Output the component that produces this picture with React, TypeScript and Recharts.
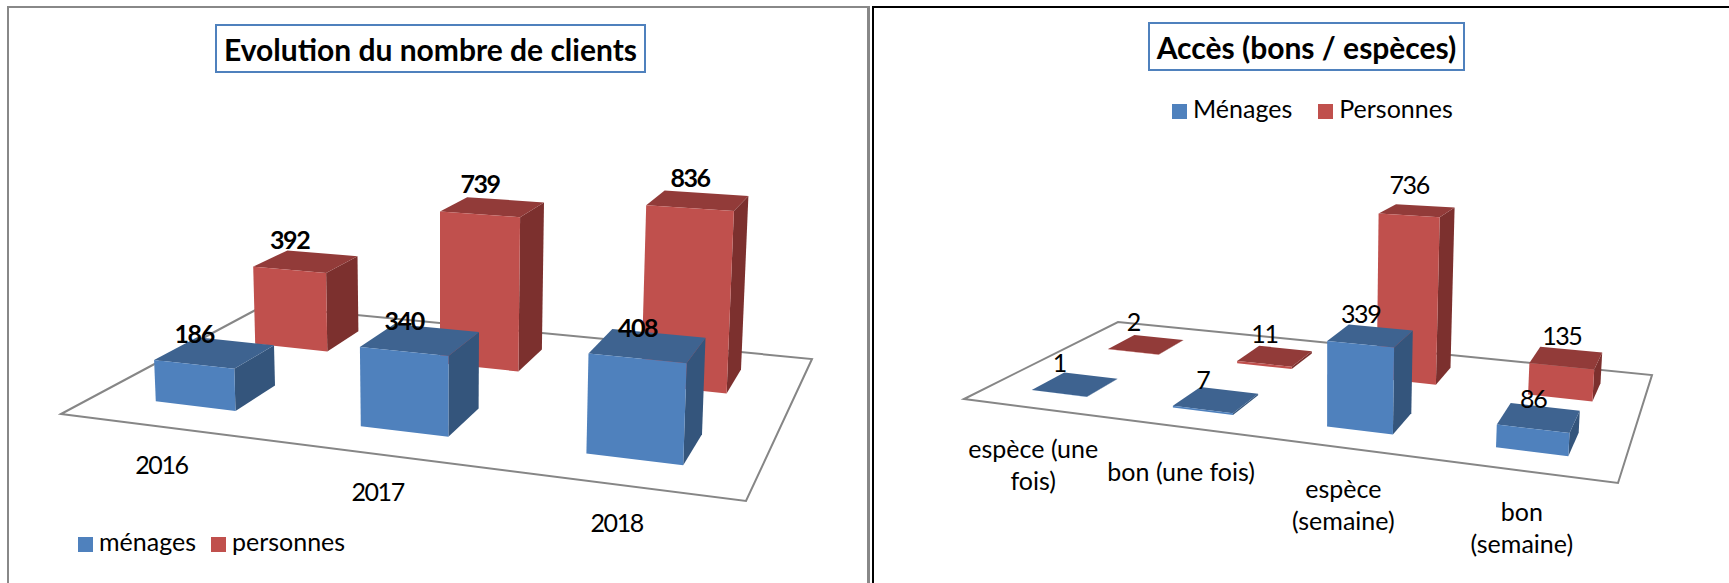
import React from 'react';
import { Bar, BarChart, LabelList, Legend, XAxis, YAxis } from 'recharts';

// left chart
const years = ['2016', '2017', '2018'];
const menagesByYear = [186, 340, 408];
const personnesByYear = [392, 739, 836];

// right chart
const accessTypes = ['espèce (une\nfois)', 'bon (une fois)', 'espèce\n(semaine)', 'bon\n(semaine)'];
const menagesByAccess = [1, 7, 339, 86];
const personnesByAccess = [2, 11, 736, 135];

const FONT = 'Lato, sans-serif';
const TEXT_SIZE = 25;
const DIGIT_SPACING = -1.4; // Lato digits run wider than the original font
const BLUE = { front: '#4f81bd', top: '#3e6390', side: '#34557c' };
const RED = { front: '#c0504d', top: '#923b39', side: '#7c302e' };
const CHART_HEIGHT = 583;

type Pt = [number, number];

// floor quad -> unit square mapping, so the bars keep the Excel 3D look
const makeCamera = (quad: Pt[], plotWidth: number, liftScale: number, centerX: number, spread: number) => {
  const [p0, p1, p2, p3] = quad;
  const dx1 = p1[0] - p2[0];
  const dx2 = p3[0] - p2[0];
  const sx = p0[0] - p1[0] + p2[0] - p3[0];
  const dy1 = p1[1] - p2[1];
  const dy2 = p3[1] - p2[1];
  const sy = p0[1] - p1[1] + p2[1] - p3[1];
  const den = dx1 * dy2 - dx2 * dy1;
  const g = (sx * dy2 - dx2 * sy) / den;
  const h = (dx1 * sy - sx * dy1) / den;
  const a = p1[0] - p0[0] + g * p1[0];
  const b = p3[0] - p0[0] + h * p3[0];
  const d = p1[1] - p0[1] + g * p1[1];
  const e = p3[1] - p0[1] + h * p3[1];

  return (px: number, depth: number, heightPx = 0): Pt => {
    const u = px / plotWidth;
    const w = 1 + g * u + h * depth;
    const fx = (a * u + b * depth + p0[0]) / w;
    const fy = (d * u + e * depth + p0[1]) / w;
    const lift = (heightPx * liftScale) / w;
    return [fx + lift * spread * (fx - centerX), fy - lift];
  };
};

const toPoints = (pts: Pt[]) => pts.map((p) => `${p[0].toFixed(1)},${p[1].toFixed(1)}`).join(' ');

const Box3D = ({ x, width, height, camera, depth, colors }: any) => {
  const [v0, v1] = depth;
  const x1 = x + width;
  return (
    <g>
      <polygon
        points={toPoints([camera(x1, v0, 0), camera(x1, v1, 0), camera(x1, v1, height), camera(x1, v0, height)])}
        fill={colors.side}
      />
      <polygon
        points={toPoints([camera(x, v0, height), camera(x1, v0, height), camera(x1, v1, height), camera(x, v1, height)])}
        fill={colors.top}
      />
      <polygon
        points={toPoints([camera(x, v0, 0), camera(x1, v0, 0), camera(x1, v0, height), camera(x, v0, height)])}
        fill={colors.front}
      />
    </g>
  );
};

const BarValue = ({ x, width, height, value, camera, depth, bold }: any) => {
  const left = camera(x, depth[0], height);
  const right = camera(x + width, depth[0], height);
  return (
    <text
      x={(left[0] + right[0]) / 2}
      y={(left[1] + right[1]) / 2 - 31}
      textAnchor="middle"
      dominantBaseline="central"
      fontFamily={FONT}
      fontSize={TEXT_SIZE}
      letterSpacing={DIGIT_SPACING}
      fontWeight={bold ? 700 : 400}
      fill="#000"
    >
      {value}
    </text>
  );
};

const FloorTick = ({ x, payload, camera, offsets }: any) => {
  const [px, py] = camera(x, 0, 0);
  const label = String(payload.value);
  const lines = label.split('\n');
  const first = py + (lines.length > 1 ? offsets[1] : offsets[0]);
  return (
    <text
      x={px}
      y={first}
      textAnchor="middle"
      dominantBaseline="central"
      fontFamily={FONT}
      fontSize={TEXT_SIZE}
      letterSpacing={/^\d+$/.test(label) ? DIGIT_SPACING : 0}
      fill="#000"
    >
      {lines.map((line, i) => (
        <tspan key={line} x={px} dy={i === 0 ? 0 : 32}>
          {line}
        </tspan>
      ))}
    </text>
  );
};

const Chart3D = ({ categories, menages, personnes, names, width, quad, liftScale, centerX, spread, bold, legendStyle, legendGap, tickOffsets }: any) => {
  const camera = makeCamera(quad, width, liftScale, centerX, spread);
  const rows = categories.map((name: string, i: number) => ({ name, [names[0]]: menages[i], [names[1]]: personnes[i] }));
  const frontRow = [0.15, 0.35];
  const backRow = [0.65, 0.85];

  return (
    <BarChart width={width} height={CHART_HEIGHT} data={rows} margin={{ top: 0, right: 0, bottom: 0, left: 0 }} barCategoryGap="30%">
      <polygon points={toPoints(quad)} fill="#fff" stroke="#868686" strokeWidth={2} />
      <XAxis
        xAxisId="front"
        dataKey="name"
        height={1}
        interval={0}
        axisLine={false}
        tickLine={false}
        tick={(p: any) => <FloorTick {...p} camera={camera} offsets={tickOffsets} />}
      />
      <XAxis xAxisId="back" dataKey="name" hide />
      <YAxis domain={[0, 1000]} hide />
      <Legend
        layout="horizontal"
        align="center"
        verticalAlign="middle"
        iconType="square"
        iconSize={15}
        wrapperStyle={{ ...legendStyle, width: 'auto', fontFamily: FONT, fontSize: TEXT_SIZE }}
        formatter={(value: string) => (
          <span style={{ color: '#000', marginLeft: 2, marginRight: legendGap }}>{value}</span>
        )}
      />
      <Bar
        xAxisId="back"
        dataKey={names[1]}
        fill={RED.front}
        legendType="square"
        isAnimationActive={false}
        shape={(p: any) => <Box3D {...p} camera={camera} depth={backRow} colors={RED} />}
      >
        <LabelList dataKey={names[1]} content={(p: any) => <BarValue {...p} camera={camera} depth={backRow} bold={bold} />} />
      </Bar>
      <Bar
        xAxisId="front"
        dataKey={names[0]}
        fill={BLUE.front}
        legendType="square"
        isAnimationActive={false}
        shape={(p: any) => <Box3D {...p} camera={camera} depth={frontRow} colors={BLUE} />}
      >
        <LabelList dataKey={names[0]} content={(p: any) => <BarValue {...p} camera={camera} depth={frontRow} bold={bold} />} />
      </Bar>
    </BarChart>
  );
};

const TitleBox = ({ text, style }: any) => (
  <div
    style={{
      position: 'absolute',
      boxSizing: 'border-box',
      border: '2px solid #4f81bd',
      background: '#fff',
      fontFamily: FONT,
      fontWeight: 700,
      fontSize: 30,
      color: '#000',
      display: 'flex',
      alignItems: 'center',
      justifyContent: 'center',
      whiteSpace: 'nowrap',
      ...style,
    }}
  >
    {text}
  </div>
);

export default function App() {
  return (
    <div style={{ position: 'absolute', left: 0, top: 0, width: 1729, height: 583, overflow: 'hidden', background: '#fff' }}>
      <div style={{ position: 'absolute', left: 0, top: 0, width: 870, height: 583 }}>
        <Chart3D
          categories={years}
          menages={menagesByYear}
          personnes={personnesByYear}
          names={['ménages', 'personnes']}
          width={870}
          quad={[[61, 414], [746, 501], [812, 359], [263, 306]]}
          liftScale={0.392}
          centerX={440}
          spread={0.00014}
          bold
          tickOffsets={[37, 37]}
          legendGap={5}
          legendStyle={{ left: 78, top: 526 }}
        />
      </div>
      <div style={{ position: 'absolute', left: 870, top: 0, width: 859, height: 583 }}>
        <Chart3D
          categories={accessTypes}
          menages={menagesByAccess}
          personnes={personnesByAccess}
          names={['Ménages', 'Personnes']}
          width={859}
          quad={[[94, 399], [748, 483], [782, 375], [248, 322]]}
          liftScale={0.4055}
          centerX={450}
          spread={0.0002}
          tickOffsets={[44, 40]}
          legendGap={16}
          legendStyle={{ left: 302, top: 93 }}
        />
      </div>

      {/* page frame around the two pasted charts */}
      <div style={{ position: 'absolute', left: 7, top: 6, width: 863, height: 577, boxSizing: 'border-box', borderLeft: '2px solid #888', borderTop: '2px solid #888', borderRight: '3px solid #888' }} />
      <div style={{ position: 'absolute', left: 872, top: 6, width: 857, height: 577, boxSizing: 'border-box', borderLeft: '2px solid #000', borderTop: '2px solid #000' }} />

      <TitleBox text="Evolution du nombre de clients" style={{ left: 215, top: 24, width: 431, height: 49 }} />
      <TitleBox text="Accès (bons / espèces)" style={{ left: 1148, top: 22, width: 317, height: 49 }} />
    </div>
  );
}
